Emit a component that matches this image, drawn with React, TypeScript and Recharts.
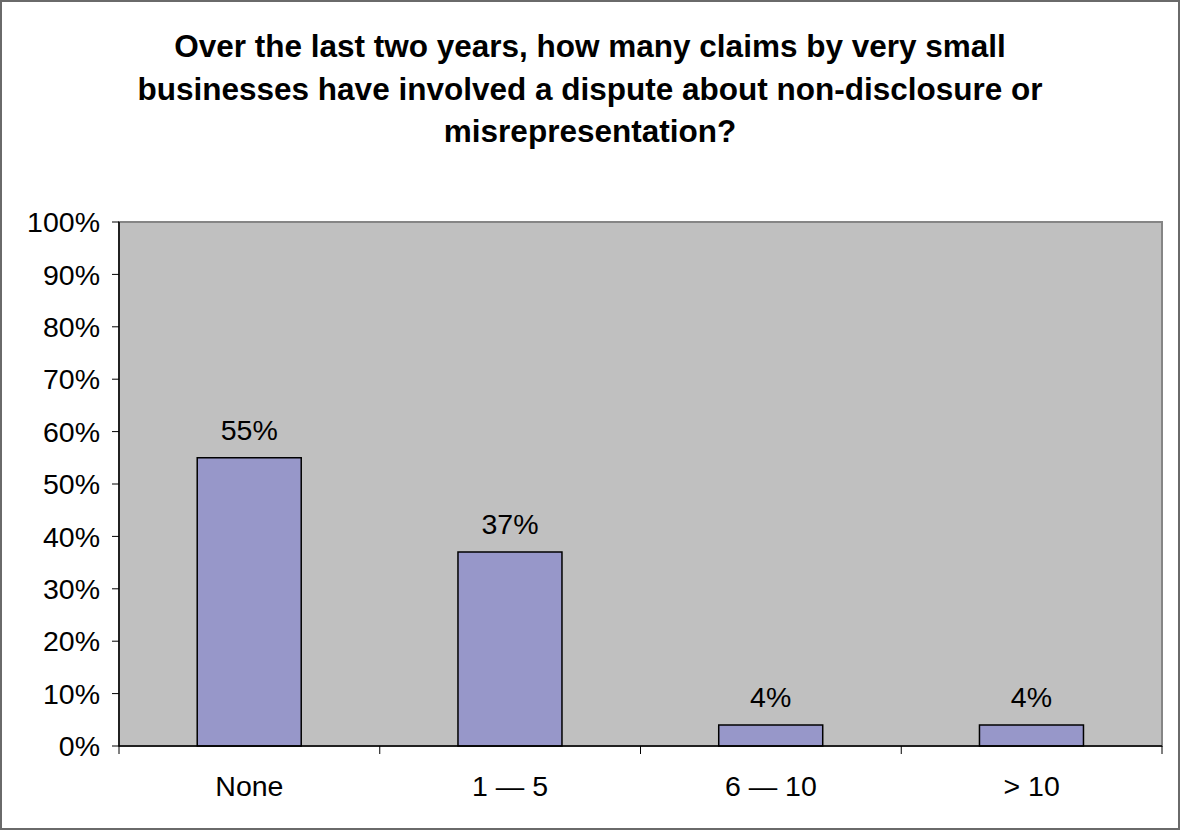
import { Bar, BarChart, CartesianGrid, LabelList, ReferenceArea, XAxis, YAxis } from "recharts"

const categories = ["None", "1 — 5", "6 — 10", "> 10"]
const shares = [0.55, 0.37, 0.04, 0.04]
const yTicks = [0, 0.1, 0.2, 0.3, 0.4, 0.5, 0.6, 0.7, 0.8, 0.9, 1]
const titleLines = [
  "Over the last two years, how many claims by very small",
  "businesses have involved a dispute about non-disclosure or",
  "misrepresentation?",
]

const data = categories.map((name, i) => ({ name, share: shares[i] }))

const FONT = "Arial, 'Liberation Sans', sans-serif"
const PLOT_W = 1162 - 119
const BAND = PLOT_W / categories.length

const pct = (v: number) => `${Math.round(v * 100)}%`

function CategoryTick(props: any) {
  const { x, y, payload, index } = props
  const last = index === categories.length - 1
  return (
    <g>
      <line x1={x - BAND / 2} y1={y} x2={x - BAND / 2} y2={y + 8} stroke="#000" strokeWidth={1} />
      {last && <line x1={x + BAND / 2} y1={y} x2={x + BAND / 2} y2={y + 8} stroke="#000" strokeWidth={1} />}
      <text x={x} y={y + 50} textAnchor="middle" fontSize={28.5} fontFamily={FONT} fill="#000">
        {payload.value}
      </text>
    </g>
  )
}

export default function App() {
  return (
    <div
      style={{
        position: "absolute",
        left: 0,
        top: 0,
        width: 1180,
        height: 830,
        boxSizing: "border-box",
        border: "2px solid #6a6a6a",
        background: "#fff",
      }}
    >
      <div
        style={{
          position: "absolute",
          left: -2,
          top: 23,
          width: 1180,
          textAlign: "center",
          fontFamily: FONT,
          fontWeight: "bold",
          fontSize: 31.5,
          lineHeight: "42.5px",
          color: "#000",
        }}
      >
        {titleLines.map((l) => (
          <div key={l}>{l}</div>
        ))}
      </div>
      <div style={{ position: "absolute", left: -2, top: -2 }}>
        <BarChart
          width={1180}
          height={830}
          data={data}
          margin={{ top: 222, right: 18, bottom: 44, left: 19 }}
          barCategoryGap="30%"
        >
          <CartesianGrid horizontal={false} vertical={false} fill="#C0C0C0" fillOpacity={1} />
          <ReferenceArea y1={0} y2={1} fill="none" stroke="#858585" strokeWidth={2} ifOverflow="visible" />
          <XAxis
            dataKey="name"
            height={40}
            axisLine={{ stroke: "#000", strokeWidth: 1.5 }}
            tickLine={false}
            tickSize={0}
            tickMargin={0}
            tick={<CategoryTick />}
            interval={0}
          />
          <YAxis
            width={100}
            domain={[0, 1]}
            ticks={yTicks}
            tickFormatter={pct}
            axisLine={{ stroke: "#000", strokeWidth: 1.5 }}
            tickLine={{ stroke: "#000" }}
            tickSize={7}
            tickMargin={12}
            tick={{ fontSize: 28.5, fontFamily: FONT, fill: "#000" }}
          />
          <Bar dataKey="share" fill="#9797C9" stroke="#000" strokeWidth={1.5} isAnimationActive={false}>
            <LabelList
              dataKey="share"
              position="top"
              offset={18}
              formatter={(v: any) => pct(Number(v))}
              style={{ fontSize: 28.5, fontFamily: FONT, fill: "#000" }}
            />
          </Bar>
        </BarChart>
      </div>
    </div>
  )
}
